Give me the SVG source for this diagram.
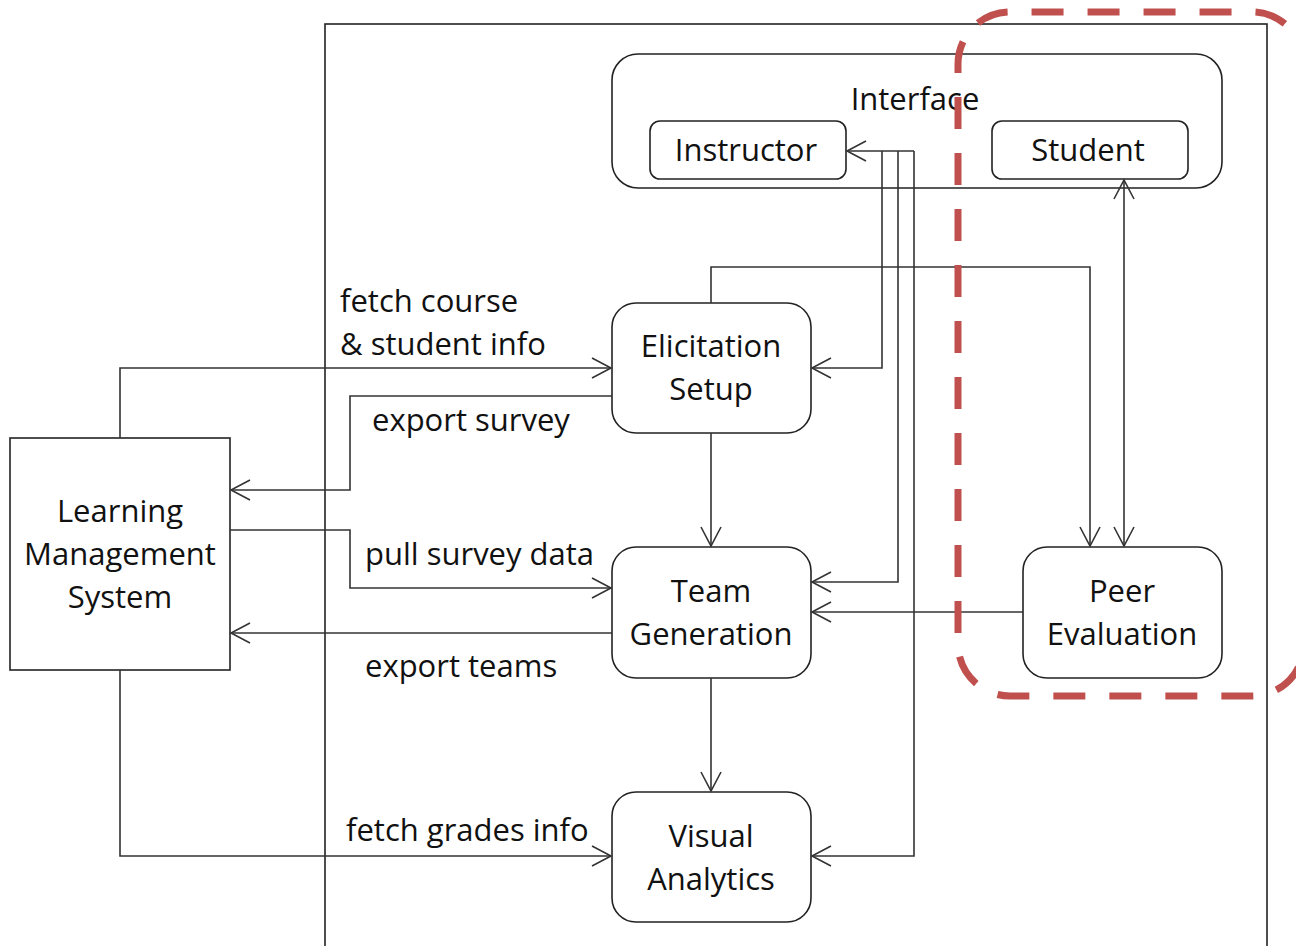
<svg xmlns="http://www.w3.org/2000/svg" width="1296" height="946" viewBox="0 0 1296 946">
<style>
.box{fill:#fff;stroke:#222;stroke-width:1.6}
.t{font-family:"Open Sans","Liberation Sans",sans-serif;font-size:31px;fill:#111}
.c{text-anchor:middle}
.ln{fill:none;stroke:#333;stroke-width:1.6}
.ar{marker-end:url(#arr)}
</style>
<defs>
<marker id="arr" markerUnits="userSpaceOnUse" viewBox="-22 -12 24 24" markerWidth="24" markerHeight="24" refX="0" refY="0" orient="auto-start-reverse" overflow="visible">
<path d="M-19,-10 L0,0 L-19,10" fill="none" stroke="#333" stroke-width="1.6"/>
</marker>
</defs>
<rect width="1296" height="946" fill="#fff"/>
<rect id="system" x="325" y="24" width="942" height="940" fill="none" stroke="#222" stroke-width="1.6"/>
<g id="interface">
<rect class="box" x="612" y="54" width="610" height="134" rx="26"/>
<text class="t c" x="915" y="110">Interface</text>
</g>
<g id="instructor">
<rect class="box" x="650" y="121" width="196" height="58" rx="10"/>
<text class="t c" x="746" y="161">Instructor</text>
</g>
<g id="student">
<rect class="box" x="992" y="121" width="196" height="58" rx="10"/>
<text class="t c" x="1088" y="161">Student</text>
</g>
<g id="elicitation">
<rect class="box" x="612" y="303" width="199" height="130" rx="24"/>
<text class="t c" x="711" y="357">Elicitation</text>
<text class="t c" x="711" y="400">Setup</text>
</g>
<g id="team">
<rect class="box" x="612" y="547" width="199" height="131" rx="24"/>
<text class="t c" x="711" y="602">Team</text>
<text class="t c" x="711" y="645">Generation</text>
</g>
<g id="visual">
<rect class="box" x="612" y="792" width="199" height="130" rx="24"/>
<text class="t c" x="711" y="847">Visual</text>
<text class="t c" x="711" y="890">Analytics</text>
</g>
<g id="peer">
<rect class="box" x="1023" y="547" width="199" height="131" rx="24"/>
<text class="t c" x="1122" y="602">Peer</text>
<text class="t c" x="1122" y="645">Evaluation</text>
</g>
<g id="lms">
<rect class="box" x="10" y="438" width="220" height="232"/>
<text class="t c" x="120" y="522">Learning</text>
<text class="t c" x="120" y="565">Management</text>
<text class="t c" x="120" y="608">System</text>
</g>
<g id="connectors">
<path class="ln ar" d="M914,151 H847"/>
<path class="ln ar" d="M882,151 V368 H812"/>
<path class="ln ar" d="M898,151 V582 H812"/>
<path class="ln ar" d="M914,151 V856 H812"/>
<path class="ln ar" d="M711,303 V267 H1090 V546"/>
<path class="ln ar" d="M1124,180 V546" marker-start="url(#arr)"/>
<path class="ln ar" d="M1023,612 H812"/>
<path class="ln ar" d="M711,433 V546"/>
<path class="ln ar" d="M711,678 V791"/>
<path class="ln ar" d="M120,438 V368 H611"/>
<path class="ln ar" d="M612,396 H350 V490 H231"/>
<path class="ln ar" d="M230,530 H350 V588 H611"/>
<path class="ln ar" d="M612,633 H231"/>
<path class="ln ar" d="M120,670 V856 H611"/>
</g>
<g id="labels">
<text class="t" x="340" y="312">fetch course</text>
<text class="t" x="340" y="355">&amp; student info</text>
<text class="t" x="372" y="431">export survey</text>
<text class="t" x="365" y="565">pull survey data</text>
<text class="t" x="365" y="677">export teams</text>
<text class="t" x="346" y="841">fetch grades info</text>
</g>
<path id="highlight" d="M1304,400 V64 A52,52 0 0 0 1252,12 H1010 A52,52 0 0 0 958,64 V644 A52,52 0 0 0 1010,696 H1252 A52,52 0 0 0 1304,644 Z" fill="none" stroke="#C0504D" stroke-width="7" stroke-dasharray="32 24" stroke-dashoffset="10"/>
</svg>
